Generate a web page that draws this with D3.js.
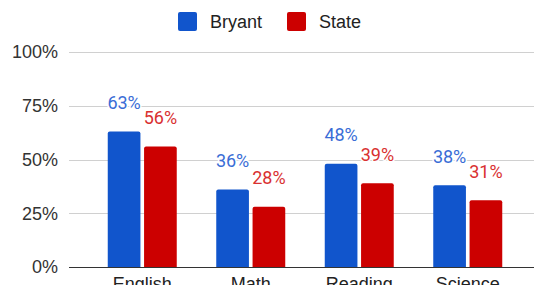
<!DOCTYPE html>
<html>
<head>
<meta charset="utf-8">
<script src="https://cdn.jsdelivr.net/npm/d3@7"></script>
<style>
  body { margin: 0; background: #fff; }
  svg { display: block; }
  .axis-label { font-family: "Liberation Sans", Arial, sans-serif; font-size: 18px; fill: #333; }
  .legend-label { font-family: "Liberation Sans", Arial, sans-serif; font-size: 18px; fill: #222; }
  .value-label { font-family: Roboto, "Liberation Sans", sans-serif; font-size: 18px; }
</style>
</head>
<body>
<div id="chart"></div>
<script>
const categories = ['English', 'Math', 'Reading', 'Science'];
const seriesNames = ['Bryant', 'State'];
const bryant = [63, 36, 48, 38];
const state = [56, 28, 39, 31];
const yTicks = [0, 25, 50, 75, 100];
const colours = ['#1155cc', '#cc0000'];
const labelColours = ['#3a6dd6', '#d93131'];

const width = 534;
const height = 285;
const margin = {top: 52, right: 0, bottom: 18, left: 69};

const svg = d3.select('#chart').append('svg')
  .attr('width', width)
  .attr('height', height);

const yScale = d3.scaleLinear()
  .domain([0, 100])
  .range([267, margin.top]);

const xScale = d3.scaleBand()
  .domain(categories)
  .range([88, 522])
  .padding(0);

const innerScale = d3.scaleBand()
  .domain(seriesNames)
  .range([-34.5, 34.5])
  .paddingInner(0.1);

// gridlines
svg.append('g')
  .selectAll('line')
  .data(yTicks.filter(d => d > 0))
  .enter()
  .append('line')
  .attr('x1', margin.left)
  .attr('x2', width)
  .attr('y1', d => Math.round(yScale(d)) + 0.5)
  .attr('y2', d => Math.round(yScale(d)) + 0.5)
  .attr('stroke', '#d0d0d0')
  .attr('stroke-width', 1);

// y labels
svg.append('g')
  .selectAll('text')
  .data(yTicks)
  .enter()
  .append('text')
  .attr('class', 'axis-label')
  .attr('x', 58)
  .attr('y', d => yScale(d))
  .attr('dy', '0.36em')
  .style('text-anchor', 'end')
  .text(d => d + '%');

const series = seriesNames.map((name, i) => ({name, values: i === 0 ? bryant : state, i}));

const groups = svg.selectAll('g.series')
  .data(series)
  .enter()
  .append('g')
  .attr('class', 'series');

// bars with slightly rounded tops
groups.selectAll('path')
  .data(s => s.values.map((v, j) => ({v, cat: categories[j], s})))
  .enter()
  .append('path')
  .attr('fill', d => colours[d.s.i])
  .attr('d', d => {
    const x0 = xScale(d.cat) + xScale.bandwidth() / 2 + innerScale(d.s.name);
    const w = innerScale.bandwidth();
    const y0 = yScale(d.v);
    const y1 = yScale(0);
    const r = 2;
    return `M${x0},${y1}V${y0 + r}Q${x0},${y0} ${x0 + r},${y0}H${x0 + w - r}Q${x0 + w},${y0} ${x0 + w},${y0 + r}V${y1}Z`;
  });

// value labels, white halo knocks out the gridlines like the original
groups.selectAll('text')
  .data(s => s.values.map((v, j) => ({v, cat: categories[j], s})))
  .enter()
  .append('text')
  .attr('class', 'value-label')
  .attr('fill', d => labelColours[d.s.i])
  .attr('stroke', '#fff')
  .attr('stroke-width', 3)
  .attr('paint-order', 'stroke')
  .attr('x', d => xScale(d.cat) + xScale.bandwidth() / 2 + innerScale(d.s.name) + innerScale.bandwidth() / 2)
  .attr('y', d => yScale(d.v) - 22.5)
  .style('text-anchor', 'middle')
  .text(d => d.v + '%');

// baseline
svg.append('line')
  .attr('x1', margin.left)
  .attr('x2', width)
  .attr('y1', Math.round(yScale(0)) + 0.5)
  .attr('y2', Math.round(yScale(0)) + 0.5)
  .attr('stroke', '#333')
  .attr('stroke-width', 1);

// category labels (cropped at the bottom edge, as in the original)
svg.append('g')
  .selectAll('text')
  .data(categories)
  .enter()
  .append('text')
  .attr('class', 'axis-label')
  .style('fill', '#222')
  .attr('x', d => xScale(d) + xScale.bandwidth() / 2)
  .attr('y', 290)
  .style('text-anchor', 'middle')
  .text(d => d);

// legend
const legendX = [178, 287];
const legend = svg.append('g');
seriesNames.forEach((name, i) => {
  legend.append('rect')
    .attr('x', legendX[i])
    .attr('y', 12)
    .attr('width', 19)
    .attr('height', 19)
    .attr('rx', 2)
    .attr('fill', colours[i]);
  legend.append('text')
    .attr('class', 'legend-label')
    .attr('x', legendX[i] + 32)
    .attr('y', 21.5)
    .attr('dy', '0.36em')
    .text(name);
});
</script>
</body>
</html>
